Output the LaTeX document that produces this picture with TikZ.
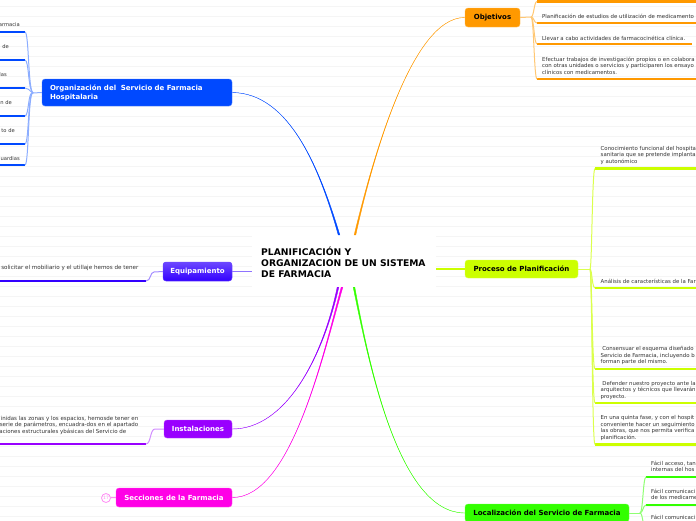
\documentclass[tikz,border=0pt]{standalone}
\usepackage{fontspec}
\setmainfont{DejaVu Sans}
\usepackage{tikz}
\usetikzlibrary{calc}
\usepackage{xcolor}
\definecolor{orgblue}{HTML}{0049FF}
\definecolor{objorange}{HTML}{FF9900}
\definecolor{proclime}{HTML}{CCFF00}
\definecolor{locgreen}{HTML}{33FF00}
\definecolor{equipviolet}{HTML}{3300FF}
\definecolor{instpurple}{HTML}{9900FF}
\definecolor{seccpink}{HTML}{FF00E6}
\tikzset{
    topicbox/.style={rounded corners=3pt, font=\bfseries\fontsize{7}{9}\selectfont, inner sep=0pt, draw=#1!70!white, line width=0.4pt, fill=#1},
    leaftext/.style={font=\fontsize{5.4}{6.5}\selectfont, text=black!80, inner sep=0pt, align=left, anchor=west},
    twig/.style={line width=1pt},
    leafbar/.style={line width=2.2pt}
}
\newcommand{\rootlink}[5]{%
    \draw[#1, line width=0.4pt, fill=#1] (#2) .. controls (#3) and (#4) .. ($(#5)+(-0.8,0)$)
        -- ($(#5)+(0.8,0)$) .. controls (#4) and (#3) .. (#2);
}
\begin{document}
\begin{tikzpicture}[x=1pt, y=-1pt]
    \useasboundingbox (0,0) rectangle (696,520);
    % Ruled background
    \foreach \rowy in {6.7,16.7,...,516.7} {
        \draw[black!4, line width=0.7pt] (0,\rowy) -- (696,\rowy);
    }

    % Root
    \node[fill=white, minimum width=184pt, minimum height=52pt, inner sep=0pt] (root) at (344,261) {};
    \node[font=\bfseries\fontsize{9.2}{11}\selectfont, align=left, anchor=west, inner sep=0pt] (roottext) at (261,262)
        {PLANIFICACIÓN Y\\ORGANIZACION DE UN SISTEMA\\DE FARMACIA};
    \coordinate (rootN1) at ($(root.north)+(-5,0)$);
    \coordinate (rootN2) at ($(root.north)+(11,0)$);
    \coordinate (rootS1) at ($(root.south)+(-6,0)$);
    \coordinate (rootS2) at ($(root.south)+(-2,0)$);
    \coordinate (rootS3) at ($(root.south)+(10,0)$);

    % Topics
    \node[topicbox=orgblue, text=white, minimum width=190pt, minimum height=27pt, text width=174pt, align=left] (org) at (137,92.5)
        {Organización del\ \ Servicio de Farmacia\\Hospitalaria};
    \node[topicbox=objorange, text=black, minimum width=55pt, minimum height=19pt] (obj) at (492.5,17.5) {Objetivos};
    \node[topicbox=proclime, text=black, minimum width=113pt, minimum height=18pt] (proc) at (521.5,269) {Proceso de Planificación};
    \node[topicbox=locgreen, text=black, minimum width=164pt, minimum height=18pt] (loc) at (547,513) {Localización del Servicio de Farmacia};
    \node[topicbox=equipviolet, top color=equipviolet!72!white, bottom color=equipviolet, text=white, minimum width=69pt, minimum height=19pt] (equip) at (197.5,271.5) {Equipamiento};
    \node[topicbox=instpurple, text=white, minimum width=68pt, minimum height=18pt] (inst) at (198,429) {Instalaciones};
    \node[topicbox=seccpink, text=white, minimum width=116pt, minimum height=19pt] (secc) at (174,497.5) {Secciones de la Farmacia};
    \node[circle, draw=seccpink!45, line width=0.8pt, inner sep=0pt, minimum size=9pt, font=\fontsize{4.5}{4.5}\selectfont, text=seccpink!45] (more) at (106,498) {17};

    % Root branches
    \rootlink{orgblue}{org.east}{290,93}{320,170}{rootN1}
    \rootlink{objorange}{obj.west}{410,17}{370,170}{rootN2}
    \rootlink{locgreen}{loc.west}{400,513}{370,370}{rootS3}
    \rootlink{instpurple}{inst.east}{285,429}{322,360}{rootS1}
    \rootlink{seccpink}{secc.east}{290,498}{322,360}{rootS2}
    \draw[proclime, line width=1.2pt] (proc.west) -- (root.east |- proc.west);
    \draw[equipviolet!55, line width=1.2pt] (equip.east) -- (root.west |- equip.east);
    \draw[seccpink!45, line width=1pt] (secc.west) -- (more);

    % Organization leaves
    \coordinate (orgJ) at (33,93);
    \draw[orgblue!45, twig] (org.west) -- (orgJ);
    \foreach \leafname/\leaftxt/\textx/\texty/\bary in {
        a/armacia/20/25/32, b/de/9/47/60, c/las/7/75/88,
        d/{n de}/12/103/116, e/{to de}/15/131/144, f/uardias/20/159/165} {
        \node[leaftext, anchor=east, font=\fontsize{5.2}{6.5}\selectfont] (org\leafname) at (\textx,\texty) {\leaftxt};
        \coordinate (org\leafname bar) at (25,\bary);
        \draw[orgblue, leafbar] (0,\bary) -- (org\leafname bar);
        \draw[orgblue!45, twig] (orgJ) .. controls (28,90) and (29,\bary) .. (org\leafname bar);
    }

    % Objetivos leaves
    \coordinate (objJ) at (531,17);
    \draw[objorange!55, twig] (obj.east) -- (objJ);
    \foreach \leafname/\leaftxt/\texty/\bary/\barx in {
        a/{}/-3/1.5/696,
        b/{Planificación de estudios de utilización de medicamento}/16/23/696,
        c/{Llevar a cabo actividades de farmacocinética clínica.}/38/44/692,
        d/{Efectuar trabajos de investigación propios o en colabora\\con otras unidades o servicios y participaren los ensayo\\clínicos con medicamentos.}/65.5/79/696} {
        \node[leaftext] (obj\leafname) at (542,\texty) {\leaftxt};
        \coordinate (obj\leafname bar) at (537,\bary);
        \draw[objorange, leafbar] (obj\leafname bar) -- (\barx,\bary);
        \draw[objorange!55, twig] (objJ) .. controls (534,17) and (534,\bary) .. (obj\leafname bar);
    }

    % Proceso leaves
    \coordinate (procJ) at (590,269);
    \draw[proclime!70, twig] (proc.east) -- (procJ);
    \foreach \leafname/\leaftxt/\texty/\bary in {
        a/{Conocimiento funcional del hospita\\sanitaria que se pretende implanta\\y autonómico}/155.5/168.5,
        b/{Análisis de características de la Far}/281/288,
        c/{\ Consensuar el esquema diseñado\\Servicio de Farmacia, incluyendo b\\forman parte del mismo.}/355.5/369,
        d/{\ Defender nuestro proyecto ante la\\arquitectos y técnicos que llevarán\\proyecto.}/390.5/403,
        e/{En una quinta fase, y con el hospit\\conveniente hacer un seguimiento\\las obras, que nos permita verifica\\planificación.}/428/444.5} {
        \node[leaftext] (proc\leafname) at (600.5,\texty) {\leaftxt};
        \coordinate (proc\leafname bar) at (595,\bary);
        \draw[proclime, leafbar] (proc\leafname bar) -- (696,\bary);
        \draw[proclime!70, twig] (procJ) .. controls (592,269) and (592,\bary) .. (proc\leafname bar);
    }

    % Localizacion leaves
    \coordinate (locJ) at (640,513);
    \draw[locgreen!55, twig] (loc.east) -- (locJ);
    \foreach \leafname/\leaftxt/\texty/\bary in {
        a/{Fácil acceso, tan\\internas del hos}/466.5/477,
        b/{Fácil comunicaci\\de los medicame}/494.5/505,
        c/{Fácil comunicaci}/517/530} {
        \node[leaftext] (loc\leafname) at (651,\texty) {\leaftxt};
        \coordinate (loc\leafname bar) at (646,\bary);
        \draw[locgreen, leafbar] (loc\leafname bar) -- (696,\bary);
        \draw[locgreen!55, twig] (locJ) .. controls (643,513) and (643,\bary) .. (loc\leafname bar);
    }

    % Equipamiento leaf
    \node[leaftext, anchor=east, font=\fontsize{5.6}{6.5}\selectfont] (equipleaf) at (138.5,268) {solicitar el mobiliario y el utillaje hemos de tener};
    \coordinate (equipbar) at (146,281);
    \draw[equipviolet, leafbar] (0,281) -- (equipbar);
    \draw[equipviolet!45, twig] (equip.west) -- (154,272) .. controls (150,272) and (151,281) .. (equipbar);

    % Instalaciones leaf
    \node[leaftext, anchor=east, align=right, font=\fontsize{5.5}{6.5}\selectfont] (instleaf) at (138.5,425)
        {inidas las zonas y los espacios, hemosde tener en\\serie de parámetros, encuadra-dos en el apartado\\aciones estructurales ybásicas del Servicio de\hspace*{12pt}};
    \coordinate (instbar) at (146,444);
    \draw[instpurple, leafbar] (0,444) -- (instbar);
    \draw[instpurple!45, twig] (inst.west) -- (155,429) .. controls (150,429) and (151,444) .. (instbar);
\end{tikzpicture}
\end{document}
